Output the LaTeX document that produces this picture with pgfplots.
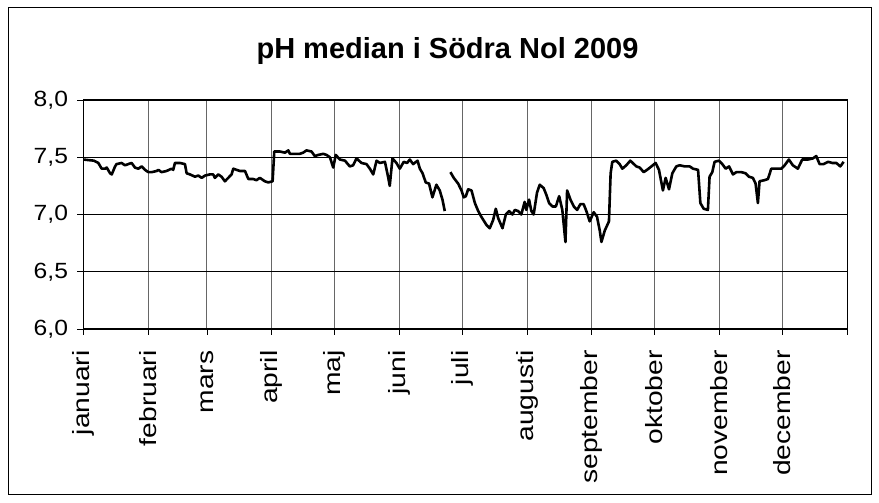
\documentclass[border=0pt]{standalone}
\usepackage{fontspec}
\setmainfont{Liberation Sans}
\newfontfamily\xfam[FakeStretch=1.2]{Liberation Sans}
\newfontfamily\yfam[FakeStretch=1.12]{Liberation Sans}
\usepackage{pgfplots}
\usepackage{pgfplotstable}
\pgfplotsset{compat=1.18}
\pgfplotstableread{
day ph
0 7.48
5 7.47
7.1 7.45
8.7 7.40
10.3 7.40
11.1 7.41
12.7 7.36
13.5 7.35
15.1 7.42
15.8 7.44
18.2 7.45
19.8 7.43
21.4 7.44
23.0 7.45
24.6 7.41
26.2 7.40
27.8 7.42
29.4 7.39
31.0 7.37
32.6 7.37
35.0 7.38
35.8 7.39
37.3 7.37
39.7 7.38
42.1 7.40
42.9 7.39
43.7 7.45
46.1 7.45
48.5 7.44
49.3 7.36
50.9 7.35
53.3 7.33
54.9 7.34
56.5 7.32
58.1 7.34
60.4 7.35
62.0 7.35
62.8 7.32
64.4 7.35
66.0 7.33
67.6 7.29
69.2 7.32
70.8 7.35
71.6 7.40
74.8 7.38
77.2 7.38
78.8 7.31
81.1 7.31
82.7 7.30
84.3 7.32
86.7 7.29
88.3 7.28
90.4 7.29
91.2 7.55
93.9 7.55
96.3 7.54
97.9 7.56
98.7 7.53
100.3 7.53
101.8 7.53
103.4 7.53
105.0 7.54
106.6 7.56
109.0 7.55
110.6 7.51
112.2 7.52
114.6 7.53
116.2 7.52
117.8 7.50
119.4 7.41
120.6 7.52
122.6 7.48
125.0 7.47
127.3 7.42
128.9 7.43
130.5 7.49
132.9 7.45
135.3 7.44
136.9 7.40
138.5 7.35
140.1 7.47
141.7 7.45
144.1 7.46
145.6 7.33
146.4 7.25
147.7 7.49
149.6 7.45
151.2 7.40
153.1 7.46
154.7 7.45
156.0 7.48
157.6 7.44
159.7 7.47
160.8 7.40
162.1 7.36
163.6 7.28
165.2 7.27
166.8 7.15
168.7 7.26
170.3 7.21
171.6 7.13
172.7 7.03
173.5 nan
175.4 7.37
177.0 7.32
179.1 7.27
180.7 7.21
181.8 7.15
182.8 7.16
183.9 7.22
185.5 7.21
187.1 7.10
188.7 7.03
190.2 6.98
192.6 6.91
194.2 6.88
195.8 6.95
197.1 7.05
198.2 6.97
200.3 6.88
201.9 7.00
203.5 7.03
205.1 7.00
206.2 7.04
207.8 7.03
209.3 7.00
210.9 7.11
211.7 7.04
213.0 7.13
214.1 7.03
215.2 7.00
216.8 7.19
218.1 7.26
220.0 7.23
221.3 7.17
222.6 7.10
224.2 7.07
225.8 7.07
227.4 7.16
228.9 7.04
230.4 6.76
231.2 7.21
232.8 7.13
234.4 7.07
236.0 7.04
237.5 7.09
239.1 7.09
240.4 7.03
242.0 6.94
243.9 7.02
245.5 6.98
246.8 6.86
247.6 6.76
249.2 6.86
251.2 6.94
252.0 7.36
252.8 7.46
254.7 7.47
256.3 7.44
257.6 7.40
259.5 7.43
261.4 7.47
264.3 7.42
265.9 7.41
267.8 7.37
269.4 7.39
271.5 7.42
273.5 7.45
275.1 7.39
277.0 7.21
278.3 7.32
279.9 7.22
281.5 7.36
283.4 7.42
285.0 7.43
287.4 7.42
289.8 7.42
291.4 7.40
293.8 7.39
294.9 7.10
296.5 7.05
298.5 7.04
299.3 7.33
300.6 7.37
301.7 7.46
303.8 7.47
305.4 7.44
307.0 7.40
308.6 7.42
310.5 7.35
312.1 7.37
314.5 7.37
316.5 7.36
318.1 7.33
320.0 7.32
321.3 7.27
322.4 7.10
323.2 7.29
325.6 7.30
327.2 7.31
328.8 7.40
331.2 7.40
333.6 7.40
335.2 7.43
337.2 7.48
339.1 7.43
341.5 7.40
343.6 7.48
346.3 7.48
348.7 7.49
350.3 7.51
351.9 7.44
353.8 7.44
356.0 7.46
358.0 7.45
359.9 7.45
361.8 7.42
363.4 7.46
}\phdata
\begin{document}
\begin{tikzpicture}[x=1pt,y=1pt]
\useasboundingbox (0,0) rectangle (879,503);
\draw[black, line width=1pt] (8,8) rectangle (871,495);
\node[anchor=base, inner sep=0pt, font=\fontsize{29}{29}\selectfont\bfseries] at (447.5,444) {pH median i Södra Nol 2009};
\begin{axis}[
  at={(83.5pt,174pt)}, anchor=south west,
  scale only axis, width=763.5pt, height=229pt,
  xmin=0, xmax=365, ymin=6, ymax=8,
  xtick={0,31,59,90,120,151,181,212,243,273,304,334,365},
  xticklabels={januari,februari,mars,april,maj,juni,juli,augusti,september,oktober,november,december,{}},
  ytick={6,6.5,7,7.5,8},
  yticklabel style={font=\yfam\fontsize{22}{22}\selectfont, anchor=east,
    /pgf/number format/.cd, use comma, fixed, fixed zerofill, precision=1, assume math mode=true},
  xticklabel style={font=\xfam\fontsize{23.5}{23.5}\selectfont, rotate=90, anchor=east},
  xticklabel shift=12pt, yticklabel shift=6pt,
  xtick pos=bottom, ytick pos=left,
  tick align=outside, major tick length=6pt,
  tick style={black, line width=0.8pt},
  axis line style={black, line width=1pt},
  xmajorgrids, ymajorgrids,
  x grid style={black!60, line width=0.9pt},
  y grid style={black, line width=0.8pt},
  unbounded coords=jump,
]
\addplot[black, line width=2.6pt, line join=round, mark=none] table[x=day,y=ph]{\phdata};
\end{axis}
\end{tikzpicture}
\end{document}
